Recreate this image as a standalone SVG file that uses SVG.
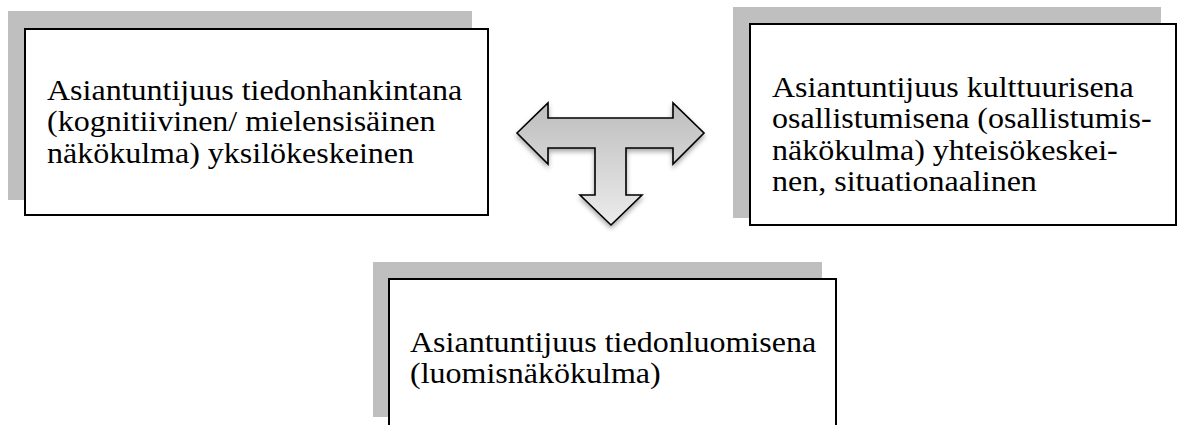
<svg xmlns="http://www.w3.org/2000/svg" width="1178" height="425" viewBox="0 0 1178 425">
  <style>
    .shadow { fill: #bfbfbf; }
    .box { fill: #ffffff; stroke: #000000; stroke-width: 2; }
    .lbl { font-family: "Liberation Serif", "Times New Roman", serif; font-size: 30px; fill: #000000; }
  </style>
  <defs>
    <linearGradient id="arrowFill" x1="0" y1="0" x2="0" y2="1">
      <stop offset="0" stop-color="#bdbdbd"/>
      <stop offset="1" stop-color="#ececec"/>
    </linearGradient>
    <filter id="soft" x="-20%" y="-20%" width="140%" height="140%">
      <feGaussianBlur in="SourceAlpha" stdDeviation="2.5"/>
      <feOffset dx="0" dy="2.5" result="b"/>
      <feComponentTransfer><feFuncA type="linear" slope="0.35"/></feComponentTransfer>
      <feMerge><feMergeNode/><feMergeNode in="SourceGraphic"/></feMerge>
    </filter>
  </defs>
  <rect width="1178" height="425" fill="#ffffff"/>

  <g id="node-tiedonhankinta">
    <rect class="shadow" x="8" y="11" width="464" height="189"/>
    <rect class="box" x="25" y="29" width="463" height="186"/>
    <text class="lbl" transform="translate(47,100) scale(1.067,1)">
      <tspan x="0" y="0">Asiantuntijuus tiedonhankintana</tspan>
      <tspan x="0" y="31.5">(kognitiivinen/ mielensisäinen</tspan>
      <tspan x="0" y="63">näkökulma) yksilökeskeinen</tspan>
    </text>
  </g>

  <g id="node-osallistuminen">
    <rect class="shadow" x="733" y="7" width="428" height="211"/>
    <rect class="box" x="750" y="24" width="426" height="201"/>
    <text class="lbl" transform="translate(772,97) scale(1.067,1)">
      <tspan x="0" y="0">Asiantuntijuus kulttuurisena</tspan>
      <tspan x="0" y="31.5">osallistumisena (osallistumis-</tspan>
      <tspan x="0" y="63">näkökulma) yhteisökeskei-</tspan>
      <tspan x="0" y="94.5">nen, situationaalinen</tspan>
    </text>
  </g>

  <g id="node-tiedonluominen">
    <rect class="shadow" x="373" y="262" width="449" height="155"/>
    <rect class="box" x="389" y="279" width="447" height="160"/>
    <text class="lbl" transform="translate(410,352) scale(1.067,1)">
      <tspan x="0" y="0">Asiantuntijuus tiedonluomisena</tspan>
      <tspan x="0" y="31.5">(luomisnäkökulma)</tspan>
    </text>
  </g>

  <g id="connectors">
    <path d="M517,133 L548,103 L548,118 L673,118 L673,103 L704,133 L673,164 L673,148 L626,148 L626,195 L642,195 L611,225 L580,195 L595,195 L595,148 L548,148 L548,164 Z"
          fill="url(#arrowFill)" stroke="#000000" stroke-width="1.6" stroke-linejoin="miter" filter="url(#soft)"/>
  </g>
</svg>
